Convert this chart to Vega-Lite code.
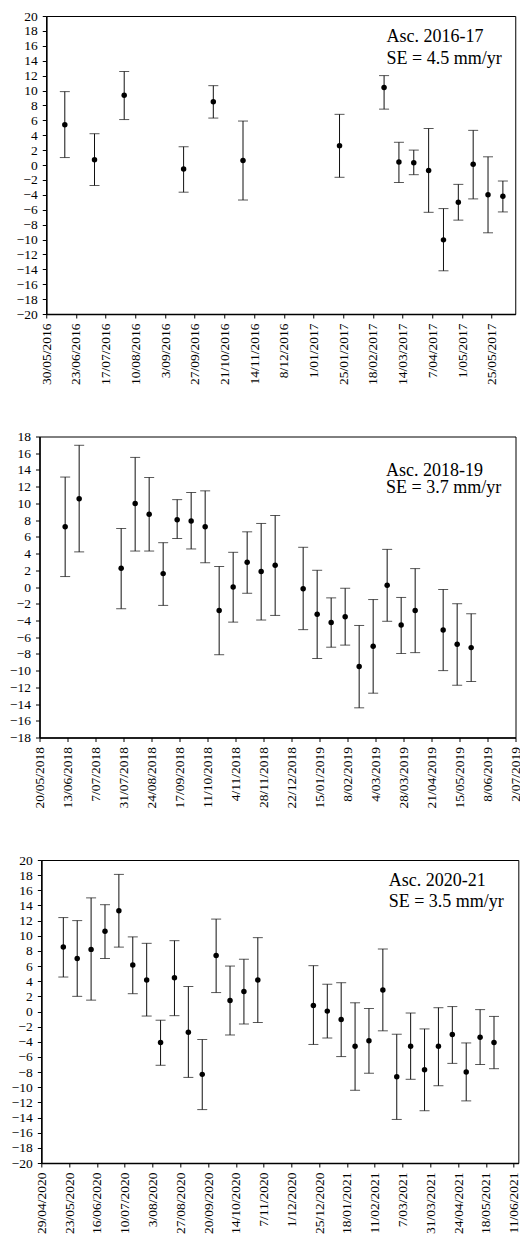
{
  "$schema": "https://vega.github.io/schema/vega-lite/v6.json",
  "background": "white",
  "padding": {"left": 3, "top": 8, "right": 0, "bottom": 0},
  "spacing": 41.5,
  "center": true,
  "datasets": {
    "p1": [
      {"date": "2016-06-14", "v": 5.4, "lo": 1.0, "hi": 9.85},
      {"date": "2016-07-08", "v": 0.7, "lo": -2.75, "hi": 4.2},
      {"date": "2016-08-01", "v": 9.35, "lo": 6.1, "hi": 12.55},
      {"date": "2016-09-18", "v": -0.55, "lo": -3.65, "hi": 2.45},
      {"date": "2016-10-12", "v": 8.5, "lo": 6.3, "hi": 10.65},
      {"date": "2016-11-05", "v": 0.6, "lo": -4.7, "hi": 5.9},
      {"date": "2017-01-22", "v": 2.6, "lo": -1.65, "hi": 6.8},
      {"date": "2017-02-27", "v": 10.4, "lo": 7.5, "hi": 12.0},
      {"date": "2017-03-11", "v": 0.4, "lo": -2.35, "hi": 3.05},
      {"date": "2017-03-23", "v": 0.3, "lo": -1.3, "hi": 2.0},
      {"date": "2017-04-04", "v": -0.75, "lo": -6.35, "hi": 4.9},
      {"date": "2017-04-16", "v": -10.05, "lo": -14.2, "hi": -5.85},
      {"date": "2017-04-28", "v": -5.0, "lo": -7.4, "hi": -2.6},
      {"date": "2017-05-10", "v": 0.1, "lo": -4.55, "hi": 4.65},
      {"date": "2017-05-22", "v": -4.0, "lo": -9.1, "hi": 1.1},
      {"date": "2017-06-03", "v": -4.2, "lo": -6.3, "hi": -2.15}
    ],
    "p2": [
      {"date": "2018-06-11", "v": 7.2, "lo": 1.25, "hi": 13.15},
      {"date": "2018-06-23", "v": 10.55, "lo": 4.2, "hi": 16.95},
      {"date": "2018-07-29", "v": 2.25, "lo": -2.6, "hi": 7.0},
      {"date": "2018-08-10", "v": 10.0, "lo": 4.3, "hi": 15.5},
      {"date": "2018-08-22", "v": 8.7, "lo": 4.3, "hi": 13.1},
      {"date": "2018-09-03", "v": 1.6, "lo": -2.2, "hi": 5.3},
      {"date": "2018-09-15", "v": 8.05, "lo": 5.8, "hi": 10.45},
      {"date": "2018-09-27", "v": 7.9, "lo": 4.55, "hi": 11.3},
      {"date": "2018-10-09", "v": 7.2, "lo": 2.9, "hi": 11.5},
      {"date": "2018-10-21", "v": -2.8, "lo": -8.1, "hi": 2.45},
      {"date": "2018-11-02", "v": 0.0, "lo": -4.2, "hi": 4.15},
      {"date": "2018-11-14", "v": 2.95, "lo": -0.75, "hi": 6.6},
      {"date": "2018-11-26", "v": 1.85, "lo": -3.95, "hi": 7.6},
      {"date": "2018-12-08", "v": 2.6, "lo": -3.4, "hi": 8.55},
      {"date": "2019-01-01", "v": -0.2, "lo": -5.1, "hi": 4.75},
      {"date": "2019-01-13", "v": -3.25, "lo": -8.55, "hi": 2.0},
      {"date": "2019-01-25", "v": -4.25, "lo": -7.2, "hi": -1.3},
      {"date": "2019-02-06", "v": -3.55, "lo": -6.95, "hi": -0.15},
      {"date": "2019-02-18", "v": -9.5, "lo": -14.45, "hi": -4.6},
      {"date": "2019-03-02", "v": -7.1, "lo": -12.7, "hi": -1.5},
      {"date": "2019-03-14", "v": 0.2, "lo": -4.1, "hi": 4.5},
      {"date": "2019-03-26", "v": -4.55, "lo": -7.95, "hi": -1.25},
      {"date": "2019-04-07", "v": -2.8, "lo": -7.85, "hi": 2.2},
      {"date": "2019-05-01", "v": -5.15, "lo": -10.0, "hi": -0.3},
      {"date": "2019-05-13", "v": -6.85, "lo": -11.75, "hi": -2.0},
      {"date": "2019-05-25", "v": -7.25, "lo": -11.3, "hi": -3.2}
    ],
    "p3": [
      {"date": "2020-05-18", "v": 8.5, "lo": 4.55, "hi": 12.4},
      {"date": "2020-05-30", "v": 7.0, "lo": 2.0, "hi": 12.0},
      {"date": "2020-06-11", "v": 8.2, "lo": 1.5, "hi": 15.0},
      {"date": "2020-06-23", "v": 10.6, "lo": 7.0, "hi": 14.1},
      {"date": "2020-07-05", "v": 13.3, "lo": 8.5, "hi": 18.1},
      {"date": "2020-07-17", "v": 6.15, "lo": 2.35, "hi": 9.85},
      {"date": "2020-07-29", "v": 4.15, "lo": -0.6, "hi": 9.0},
      {"date": "2020-08-10", "v": -4.1, "lo": -7.1, "hi": -1.15},
      {"date": "2020-08-22", "v": 4.45, "lo": -0.55, "hi": 9.35},
      {"date": "2020-09-03", "v": -2.75, "lo": -8.7, "hi": 3.3},
      {"date": "2020-09-15", "v": -8.3, "lo": -12.95, "hi": -3.7},
      {"date": "2020-09-27", "v": 7.4, "lo": 2.5, "hi": 12.2},
      {"date": "2020-10-09", "v": 1.45, "lo": -3.1, "hi": 6.0},
      {"date": "2020-10-21", "v": 2.65, "lo": -1.65, "hi": 6.9},
      {"date": "2020-11-02", "v": 4.15, "lo": -1.45, "hi": 9.75},
      {"date": "2020-12-20", "v": 0.8, "lo": -4.35, "hi": 6.05},
      {"date": "2021-01-01", "v": 0.05, "lo": -3.5, "hi": 3.6},
      {"date": "2021-01-13", "v": -1.05, "lo": -5.95, "hi": 3.8},
      {"date": "2021-01-25", "v": -4.6, "lo": -10.4, "hi": 1.15},
      {"date": "2021-02-06", "v": -3.85, "lo": -8.15, "hi": 0.4},
      {"date": "2021-02-18", "v": 2.85, "lo": -2.55, "hi": 8.25},
      {"date": "2021-03-02", "v": -8.6, "lo": -14.25, "hi": -3.0},
      {"date": "2021-03-14", "v": -4.6, "lo": -8.95, "hi": -0.2},
      {"date": "2021-03-26", "v": -7.7, "lo": -13.1, "hi": -2.3},
      {"date": "2021-04-07", "v": -4.6, "lo": -9.8, "hi": 0.5},
      {"date": "2021-04-19", "v": -3.05, "lo": -6.85, "hi": 0.65},
      {"date": "2021-05-01", "v": -8.0, "lo": -11.8, "hi": -4.15},
      {"date": "2021-05-13", "v": -3.4, "lo": -7.0, "hi": 0.25},
      {"date": "2021-05-25", "v": -4.1, "lo": -7.55, "hi": -0.65}
    ],
    "a1": [
      {"date": "2017-03-01", "v": 16.45, "label": "Asc. 2016-17"},
      {"date": "2017-03-01", "v": 13.5, "label": "SE = 4.5 mm/yr"}
    ],
    "a2": [
      {"date": "2019-03-13", "v": 13.3, "label": "Asc. 2018-19"},
      {"date": "2019-03-13", "v": 11.2, "label": "SE = 3.7 mm/yr"}
    ],
    "a3": [
      {"date": "2021-02-23", "v": 16.6, "label": "Asc. 2020-21"},
      {"date": "2021-02-23", "v": 13.8, "label": "SE = 3.5 mm/yr"}
    ]
  },
  "vconcat": [
    {
      "width": 469,
      "height": 298,
      "resolve": {"axis": {"x": "independent", "y": "independent"}},
      "layer": [
        {
          "data": {"name": "p1"},
          "mark": {"type": "rule", "color": "#111", "strokeWidth": 1},
          "encoding": {
            "x": {
              "field": "date", "type": "temporal", "title": null,
              "scale": {"type": "utc", "domain": [{"year": 2016, "month": 5, "date": 30, "utc": true}, {"year": 2017, "month": 6, "date": 13, "utc": true}], "nice": false},
              "axis": {
                "labelExpr": "utcFormat(datum.value, '%-d/%m/%Y')",
                "labelAngle": 270, "labelAlign": "right", "labelBaseline": "middle",
                "labelFont": "Liberation Serif", "labelFontSize": 13.5, "labelColor": "#000",
                "labelOverlap": false, "labelFlush": false, "labelPadding": 5, "minExtent": 72,
                "tickColor": "#000", "tickSize": 4, "tickWidth": 1, "grid": false,
                "domainColor": "#000", "domainWidth": 1.5,
                "values": [
                  {"year": 2016, "month": 5, "date": 30, "utc": true},
                  {"year": 2016, "month": 6, "date": 23, "utc": true},
                  {"year": 2016, "month": 7, "date": 17, "utc": true},
                  {"year": 2016, "month": 8, "date": 10, "utc": true},
                  {"year": 2016, "month": 9, "date": 3, "utc": true},
                  {"year": 2016, "month": 9, "date": 27, "utc": true},
                  {"year": 2016, "month": 10, "date": 21, "utc": true},
                  {"year": 2016, "month": 11, "date": 14, "utc": true},
                  {"year": 2016, "month": 12, "date": 8, "utc": true},
                  {"year": 2017, "month": 1, "date": 1, "utc": true},
                  {"year": 2017, "month": 1, "date": 25, "utc": true},
                  {"year": 2017, "month": 2, "date": 18, "utc": true},
                  {"year": 2017, "month": 3, "date": 14, "utc": true},
                  {"year": 2017, "month": 4, "date": 7, "utc": true},
                  {"year": 2017, "month": 5, "date": 1, "utc": true},
                  {"year": 2017, "month": 5, "date": 25, "utc": true}
                ]
              }
            },
            "y": {"field": "lo", "type": "quantitative", "title": null,
              "scale": {"domain": [-20, 20], "nice": false, "zero": false},
              "axis": {
                "values": [-20, -18, -16, -14, -12, -10, -8, -6, -4, -2, 0, 2, 4, 6, 8, 10, 12, 14, 16, 18, 20],
                "labelFont": "Liberation Serif", "labelFontSize": 13.5, "labelColor": "#000",
                "labelOverlap": false, "labelFlush": false, "labelPadding": 5, "minExtent": 35,
                "tickColor": "#000", "tickSize": 4, "tickWidth": 1, "grid": false,
                "domainColor": "#000", "domainWidth": 1.5
              }},
            "y2": {"field": "hi"}
          }
        },
        {
          "data": {"name": "p1"},
          "mark": {"type": "tick", "orient": "horizontal", "size": 10, "thickness": 1, "color": "#111"},
          "encoding": {"x": {"field": "date", "type": "temporal", "axis": null}, "y": {"field": "lo", "type": "quantitative", "axis": null}}
        },
        {
          "data": {"name": "p1"},
          "mark": {"type": "tick", "orient": "horizontal", "size": 10, "thickness": 1, "color": "#111"},
          "encoding": {"x": {"field": "date", "type": "temporal", "axis": null}, "y": {"field": "hi", "type": "quantitative", "axis": null}}
        },
        {
          "data": {"name": "p1"},
          "mark": {"type": "point", "filled": true, "shape": "circle", "size": 30, "color": "#000", "opacity": 1},
          "encoding": {"x": {"field": "date", "type": "temporal", "axis": null}, "y": {"field": "v", "type": "quantitative", "axis": null}}
        },
        {
          "data": {"name": "a1"},
          "mark": {"type": "text", "align": "left", "baseline": "alphabetic", "font": "Liberation Serif", "fontSize": 18, "color": "#000"},
          "encoding": {"x": {"field": "date", "type": "temporal", "axis": null}, "y": {"field": "v", "type": "quantitative", "axis": null}, "text": {"field": "label"}}
        }
      ]
    },
    {
      "width": 476,
      "height": 301,
      "resolve": {"axis": {"x": "independent", "y": "independent"}},
      "layer": [
        {
          "data": {"name": "p2"},
          "mark": {"type": "rule", "color": "#111", "strokeWidth": 1},
          "encoding": {
            "x": {
              "field": "date", "type": "temporal", "title": null,
              "scale": {"type": "utc", "domain": [{"year": 2018, "month": 5, "date": 20, "utc": true}, {"year": 2019, "month": 7, "date": 2, "utc": true}], "nice": false},
              "axis": {
                "labelExpr": "utcFormat(datum.value, '%-d/%m/%Y')",
                "labelAngle": 270, "labelAlign": "right", "labelBaseline": "middle",
                "labelFont": "Liberation Serif", "labelFontSize": 13.5, "labelColor": "#000",
                "labelOverlap": false, "labelFlush": false, "labelPadding": 5, "minExtent": 72,
                "tickColor": "#000", "tickSize": 4, "tickWidth": 1, "grid": false,
                "domainColor": "#000", "domainWidth": 1.5,
                "values": [
                  {"year": 2018, "month": 5, "date": 20, "utc": true},
                  {"year": 2018, "month": 6, "date": 13, "utc": true},
                  {"year": 2018, "month": 7, "date": 7, "utc": true},
                  {"year": 2018, "month": 7, "date": 31, "utc": true},
                  {"year": 2018, "month": 8, "date": 24, "utc": true},
                  {"year": 2018, "month": 9, "date": 17, "utc": true},
                  {"year": 2018, "month": 10, "date": 11, "utc": true},
                  {"year": 2018, "month": 11, "date": 4, "utc": true},
                  {"year": 2018, "month": 11, "date": 28, "utc": true},
                  {"year": 2018, "month": 12, "date": 22, "utc": true},
                  {"year": 2019, "month": 1, "date": 15, "utc": true},
                  {"year": 2019, "month": 2, "date": 8, "utc": true},
                  {"year": 2019, "month": 3, "date": 4, "utc": true},
                  {"year": 2019, "month": 3, "date": 28, "utc": true},
                  {"year": 2019, "month": 4, "date": 21, "utc": true},
                  {"year": 2019, "month": 5, "date": 15, "utc": true},
                  {"year": 2019, "month": 6, "date": 8, "utc": true},
                  {"year": 2019, "month": 7, "date": 2, "utc": true}
                ]
              }
            },
            "y": {"field": "lo", "type": "quantitative", "title": null,
              "scale": {"domain": [-18, 18], "nice": false, "zero": false},
              "axis": {
                "values": [-18, -16, -14, -12, -10, -8, -6, -4, -2, 0, 2, 4, 6, 8, 10, 12, 14, 16, 18],
                "labelFont": "Liberation Serif", "labelFontSize": 13.5, "labelColor": "#000",
                "labelOverlap": false, "labelFlush": false, "labelPadding": 5, "minExtent": 35,
                "tickColor": "#000", "tickSize": 4, "tickWidth": 1, "grid": false,
                "domainColor": "#000", "domainWidth": 1.5
              }},
            "y2": {"field": "hi"}
          }
        },
        {
          "data": {"name": "p2"},
          "mark": {"type": "tick", "orient": "horizontal", "size": 10, "thickness": 1, "color": "#111"},
          "encoding": {"x": {"field": "date", "type": "temporal", "axis": null}, "y": {"field": "lo", "type": "quantitative", "axis": null}}
        },
        {
          "data": {"name": "p2"},
          "mark": {"type": "tick", "orient": "horizontal", "size": 10, "thickness": 1, "color": "#111"},
          "encoding": {"x": {"field": "date", "type": "temporal", "axis": null}, "y": {"field": "hi", "type": "quantitative", "axis": null}}
        },
        {
          "data": {"name": "p2"},
          "mark": {"type": "point", "filled": true, "shape": "circle", "size": 30, "color": "#000", "opacity": 1},
          "encoding": {"x": {"field": "date", "type": "temporal", "axis": null}, "y": {"field": "v", "type": "quantitative", "axis": null}}
        },
        {
          "data": {"name": "a2"},
          "mark": {"type": "text", "align": "left", "baseline": "alphabetic", "font": "Liberation Serif", "fontSize": 18, "color": "#000"},
          "encoding": {"x": {"field": "date", "type": "temporal", "axis": null}, "y": {"field": "v", "type": "quantitative", "axis": null}, "text": {"field": "label"}}
        }
      ]
    },
    {
      "width": 477,
      "height": 303,
      "resolve": {"axis": {"x": "independent", "y": "independent"}},
      "layer": [
        {
          "data": {"name": "p3"},
          "mark": {"type": "rule", "color": "#111", "strokeWidth": 1},
          "encoding": {
            "x": {
              "field": "date", "type": "temporal", "title": null,
              "scale": {"type": "utc", "domain": [{"year": 2020, "month": 4, "date": 29, "utc": true}, {"year": 2021, "month": 6, "date": 15, "utc": true}], "nice": false},
              "axis": {
                "labelExpr": "utcFormat(datum.value, '%-d/%m/%Y')",
                "labelAngle": 270, "labelAlign": "right", "labelBaseline": "middle",
                "labelFont": "Liberation Serif", "labelFontSize": 13.5, "labelColor": "#000",
                "labelOverlap": false, "labelFlush": false, "labelPadding": 5, "minExtent": 72,
                "tickColor": "#000", "tickSize": 4, "tickWidth": 1, "grid": false,
                "domainColor": "#000", "domainWidth": 1.5,
                "values": [
                  {"year": 2020, "month": 4, "date": 29, "utc": true},
                  {"year": 2020, "month": 5, "date": 23, "utc": true},
                  {"year": 2020, "month": 6, "date": 16, "utc": true},
                  {"year": 2020, "month": 7, "date": 10, "utc": true},
                  {"year": 2020, "month": 8, "date": 3, "utc": true},
                  {"year": 2020, "month": 8, "date": 27, "utc": true},
                  {"year": 2020, "month": 9, "date": 20, "utc": true},
                  {"year": 2020, "month": 10, "date": 14, "utc": true},
                  {"year": 2020, "month": 11, "date": 7, "utc": true},
                  {"year": 2020, "month": 12, "date": 1, "utc": true},
                  {"year": 2020, "month": 12, "date": 25, "utc": true},
                  {"year": 2021, "month": 1, "date": 18, "utc": true},
                  {"year": 2021, "month": 2, "date": 11, "utc": true},
                  {"year": 2021, "month": 3, "date": 7, "utc": true},
                  {"year": 2021, "month": 3, "date": 31, "utc": true},
                  {"year": 2021, "month": 4, "date": 24, "utc": true},
                  {"year": 2021, "month": 5, "date": 18, "utc": true},
                  {"year": 2021, "month": 6, "date": 11, "utc": true}
                ]
              }
            },
            "y": {"field": "lo", "type": "quantitative", "title": null,
              "scale": {"domain": [-20, 20], "nice": false, "zero": false},
              "axis": {
                "values": [-20, -18, -16, -14, -12, -10, -8, -6, -4, -2, 0, 2, 4, 6, 8, 10, 12, 14, 16, 18, 20],
                "labelFont": "Liberation Serif", "labelFontSize": 13.5, "labelColor": "#000",
                "labelOverlap": false, "labelFlush": false, "labelPadding": 5, "minExtent": 35,
                "tickColor": "#000", "tickSize": 4, "tickWidth": 1, "grid": false,
                "domainColor": "#000", "domainWidth": 1.5
              }},
            "y2": {"field": "hi"}
          }
        },
        {
          "data": {"name": "p3"},
          "mark": {"type": "tick", "orient": "horizontal", "size": 10, "thickness": 1, "color": "#111"},
          "encoding": {"x": {"field": "date", "type": "temporal", "axis": null}, "y": {"field": "lo", "type": "quantitative", "axis": null}}
        },
        {
          "data": {"name": "p3"},
          "mark": {"type": "tick", "orient": "horizontal", "size": 10, "thickness": 1, "color": "#111"},
          "encoding": {"x": {"field": "date", "type": "temporal", "axis": null}, "y": {"field": "hi", "type": "quantitative", "axis": null}}
        },
        {
          "data": {"name": "p3"},
          "mark": {"type": "point", "filled": true, "shape": "circle", "size": 30, "color": "#000", "opacity": 1},
          "encoding": {"x": {"field": "date", "type": "temporal", "axis": null}, "y": {"field": "v", "type": "quantitative", "axis": null}}
        },
        {
          "data": {"name": "a3"},
          "mark": {"type": "text", "align": "left", "baseline": "alphabetic", "font": "Liberation Serif", "fontSize": 18, "color": "#000"},
          "encoding": {"x": {"field": "date", "type": "temporal", "axis": null}, "y": {"field": "v", "type": "quantitative", "axis": null}, "text": {"field": "label"}}
        }
      ]
    }
  ],
  "config": {
    "font": "Liberation Serif",
    "view": {"stroke": "#000", "strokeWidth": 1}
  }
}
